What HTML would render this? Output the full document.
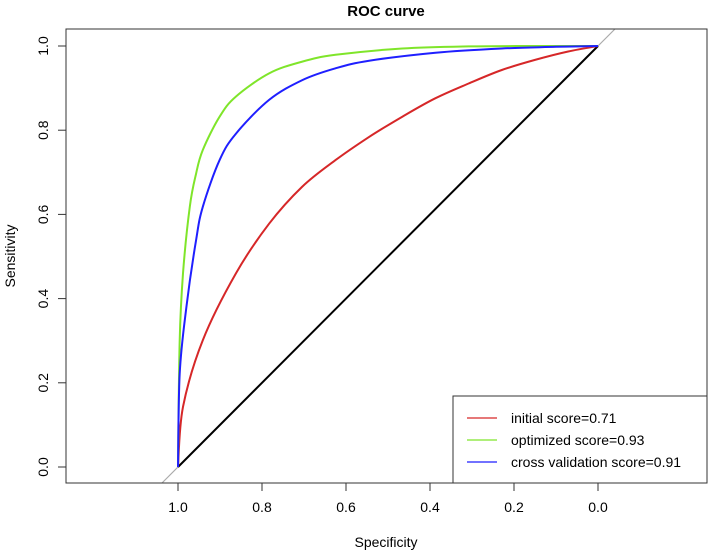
<!DOCTYPE html>
<html><head><meta charset="utf-8"><style>
body{margin:0;background:#fff}
svg{display:block;font-family:"Liberation Sans",Arial,sans-serif}
</style></head><body>
<svg id="chart" width="714" height="553" viewBox="0 0 714 553">
<text x="386" y="16" text-anchor="middle" font-size="15" font-weight="bold">ROC curve</text>
<text x="386" y="547" text-anchor="middle" font-size="14">Specificity</text>
<text transform="translate(15,256) rotate(-90)" text-anchor="middle" font-size="14">Sensitivity</text>
<g id="axes"></g>
<g id="plot"></g>
<rect x="66" y="29" width="641" height="454" fill="none" stroke="#333" stroke-width="1"/>
<g id="legend">
<rect x="453" y="396" width="254" height="87" fill="#fff" stroke="#333" stroke-width="1"/>
</g>
</svg>
<script>
const initialFpr = [0,0.012,0.059,0.138,0.217,0.296,0.375,0.455,0.534,0.613,0.692,0.771,0.85,0.929,1];
const initialSens = [0,0.143,0.301,0.46,0.578,0.666,0.729,0.784,0.832,0.876,0.911,0.943,0.967,0.987,1];
const optimizedFpr = [0,0.004,0.012,0.028,0.043,0.059,0.099,0.138,0.217,0.296,0.375,0.534,0.692,0.85,1];
const optimizedSens = [0,0.301,0.46,0.618,0.697,0.753,0.832,0.88,0.935,0.963,0.979,0.994,0.999,1,1];
const cvFpr = [0,0.004,0.02,0.043,0.059,0.099,0.138,0.217,0.296,0.375,0.455,0.613,0.771,0.9,1];
const cvSens = [0,0.222,0.38,0.539,0.618,0.729,0.792,0.872,0.919,0.947,0.965,0.984,0.994,0.998,1];
const seriesNames = ["initial score=0.71","optimized score=0.93","cross validation score=0.91"];
const seriesColors = ["#d62728","#7fe52a","#1f1fff"];
const xTicks = [1.0,0.8,0.6,0.4,0.2,0.0];
const yTicks = [0.0,0.2,0.4,0.6,0.8,1.0];

const NS="http://www.w3.org/2000/svg";
const xS = s => 598 - 420*s;
const yS = v => 467 - 421*v;
function mk(tag, attrs, parent){const e=document.createElementNS(NS,tag);for(const k in attrs)e.setAttribute(k,attrs[k]);parent.appendChild(e);return e;}
const axes=document.getElementById('axes'), plot=document.getElementById('plot'), legend=document.getElementById('legend');

xTicks.forEach(t=>{
  const l=mk('line',{x1:xS(t),x2:xS(t),y1:483,y2:491,stroke:'#333'},axes);
  
  
  const tx=mk('text',{x:xS(t),y:512,'text-anchor':'middle','font-size':14},axes);
  tx.textContent=t.toFixed(1);
  
  
});
yTicks.forEach(t=>{
  const l=mk('line',{x1:58,x2:66,y1:yS(t),y2:yS(t),stroke:'#333'},axes);
  
  
  const tx=mk('text',{transform:`translate(48,${yS(t)}) rotate(-90)`,'text-anchor':'middle','font-size':14},axes);
  tx.textContent=t.toFixed(1);
  
  
});

const g=mk('line',{x1:xS(1+16/420),y1:483,x2:xS(-(467-29)/421+1),y2:29,stroke:'#aaa','stroke-width':1.2},plot);


const d=mk('line',{x1:xS(1),y1:yS(0),x2:xS(0),y2:yS(1),stroke:'#000','stroke-width':2},plot);



function smoothPath(P){
  let s=`M${P[0][0]},${P[0][1]}`;
  for(let i=0;i<P.length-1;i++){
    const p0=P[Math.max(0,i-1)],p1=P[i],p2=P[i+1],p3=P[Math.min(P.length-1,i+2)];
    const c1=[p1[0]+(p2[0]-p0[0])/6,p1[1]+(p2[1]-p0[1])/6];
    const c2=[p2[0]-(p3[0]-p1[0])/6,p2[1]-(p3[1]-p1[1])/6];
    s+=` C${c1[0].toFixed(1)},${c1[1].toFixed(1)} ${c2[0].toFixed(1)},${c2[1].toFixed(1)} ${p2[0].toFixed(1)},${p2[1].toFixed(1)}`;
  }
  return s;
}

[[initialFpr,initialSens],[optimizedFpr,optimizedSens],[cvFpr,cvSens]].forEach(([fx,vals],i)=>{
  const P=fx.map((f,j)=>[xS(1-f),yS(vals[j])]);
  const p=mk('path',{d:smoothPath(P),fill:'none',stroke:seriesColors[i],'stroke-width':2,'stroke-linejoin':'round'},plot);
  
  
  const ly=418+i*22;
  const ll=mk('line',{x1:467,x2:497,y1:ly,y2:ly,stroke:seriesColors[i],'stroke-width':1.2},legend);
  
  
  const lt=mk('text',{x:511,y:ly+5,'font-size':14},legend);
  lt.textContent=seriesNames[i];
  
  
});
</script>
</body></html>
